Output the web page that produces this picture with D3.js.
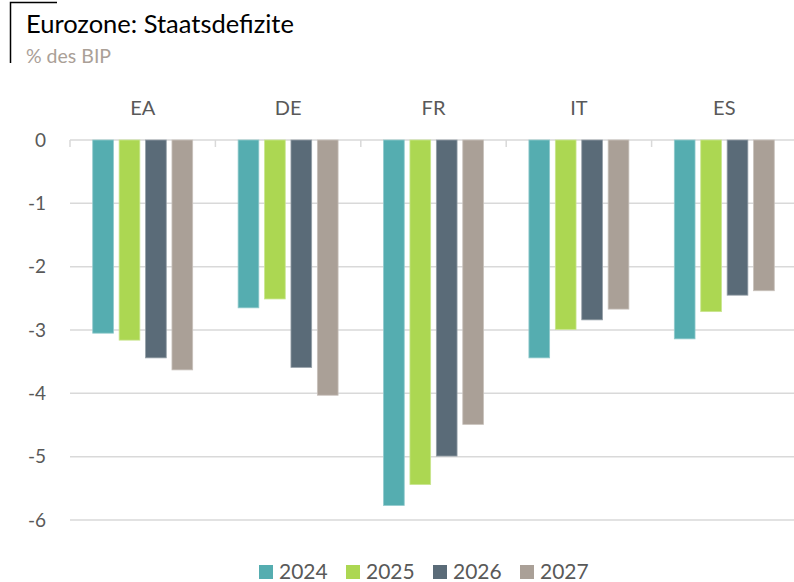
<!DOCTYPE html>
<html>
<head>
<meta charset="utf-8">
<script src="https://cdn.jsdelivr.net/npm/d3@7/dist/d3.min.js"></script>
<style>
  html, body { margin: 0; padding: 0; background: #fff; }
  svg { display: block; font-family: Lato, "Open Sans", sans-serif; }
</style>
</head>
<body>
<svg id="chart" width="794" height="582"></svg>
<script>
// Government deficits, % of GDP
const countries = ["EA", "DE", "FR", "IT", "ES"];
const years = ["2024", "2025", "2026", "2027"];
const deficit2024 = [-3.05, -2.65, -5.77, -3.44, -3.14];
const deficit2025 = [-3.16, -2.51, -5.44, -2.99, -2.71];
const deficit2026 = [-3.44, -3.59, -4.99, -2.84, -2.45];
const deficit2027 = [-3.63, -4.03, -4.49, -2.67, -2.38];
const yTicks = [0, -1, -2, -3, -4, -5, -6];
const colors = ["#55adb0", "#acd752", "#5a6b78", "#aaa097"];

const series = [deficit2024, deficit2025, deficit2026, deficit2027];
const rows = [];
countries.forEach((c, i) => {
  years.forEach((yr, j) => rows.push({ country: c, year: yr, value: series[j][i], color: colors[j] }));
});

const svg = d3.select("#chart");
const textColor = "#595959";
const gridColor = "#d9d9d9";

// Title block with corner bracket
svg.append("path")
  .attr("d", "M10.5,63 V2.5 H57")
  .attr("fill", "none")
  .attr("stroke", "#000")
  .attr("stroke-width", 1.5);
svg.append("text")
  .attr("x", 26).attr("y", 33)
  .attr("font-size", 25.5)
  .attr("fill", "#000")
  .text("Eurozone: Staatsdefizite");
svg.append("text")
  .attr("x", 26).attr("y", 63)
  .attr("font-size", 19.5)
  .attr("fill", "#aaa097")
  .text("% des BIP");

// Scales
const x = d3.scaleBand().domain(countries).range([70, 797]).paddingInner(0).paddingOuter(0);
const xInner = d3.scaleBand().domain(years).range([0, x.bandwidth()]).paddingInner(0.216).paddingOuter(0.86);
const y = d3.scaleLinear().domain([0, -6]).range([140, 520]);

// Horizontal gridlines
svg.append("g").selectAll("line")
  .data(yTicks)
  .join("line")
  .attr("x1", 70).attr("x2", 797)
  .attr("y1", d => y(d)).attr("y2", d => y(d))
  .attr("stroke", gridColor)
  .attr("stroke-width", 1.5);

// Y axis labels
const yAxis = d3.axisLeft(y).tickValues(yTicks).tickSize(0).tickPadding(0).tickFormat(d3.format("d"));
const yg = svg.append("g").attr("transform", "translate(46,0)").call(yAxis);
yg.select(".domain").remove();
yg.selectAll("text")
  .attr("font-size", 19)
  .attr("font-family", "Lato, 'Open Sans', sans-serif")
  .attr("fill", textColor)
  .text(d => d === 0 ? "0" : "-" + Math.abs(d));

// Category separator ticks along the zero line
svg.append("g").selectAll("line")
  .data(countries.concat(["_end"]))
  .join("line")
  .attr("x1", (d, i) => 70 + i * x.step())
  .attr("x2", (d, i) => 70 + i * x.step())
  .attr("y1", y(0)).attr("y2", y(0) + 7)
  .attr("stroke", gridColor)
  .attr("stroke-width", 1.5);

// Category labels above the plot
const xAxis = d3.axisTop(x).tickSize(0).tickPadding(0);
const xg = svg.append("g").attr("transform", "translate(0,115)").call(xAxis);
xg.select(".domain").remove();
xg.selectAll("text")
  .attr("font-size", 20)
  .attr("font-family", "Lato, 'Open Sans', sans-serif")
  .attr("fill", textColor);

// Bars
svg.append("g").selectAll("rect")
  .data(rows)
  .join("rect")
  .attr("x", d => x(d.country) + xInner(d.year))
  .attr("width", xInner.bandwidth())
  .attr("y", d => y(Math.max(0, d.value)))
  .attr("height", d => Math.abs(y(d.value) - y(0)))
  .attr("fill", d => d.color)
  .attr("stroke", d => d3.interpolateRgb(d.color, "#fff")(0.35))
  .attr("stroke-width", 0.8);

// Legend
const legendX = [259, 346, 433, 520];
const lg = svg.append("g").selectAll("g")
  .data(years)
  .join("g")
  .attr("transform", (d, i) => `translate(${legendX[i]},565)`);
lg.append("rect")
  .attr("width", 14).attr("height", 14)
  .attr("fill", (d, i) => colors[i]);
lg.append("text")
  .attr("x", 20).attr("y", 14)
  .attr("font-size", 21)
  .attr("fill", textColor)
  .text(d => d);
</script>
</body>
</html>
